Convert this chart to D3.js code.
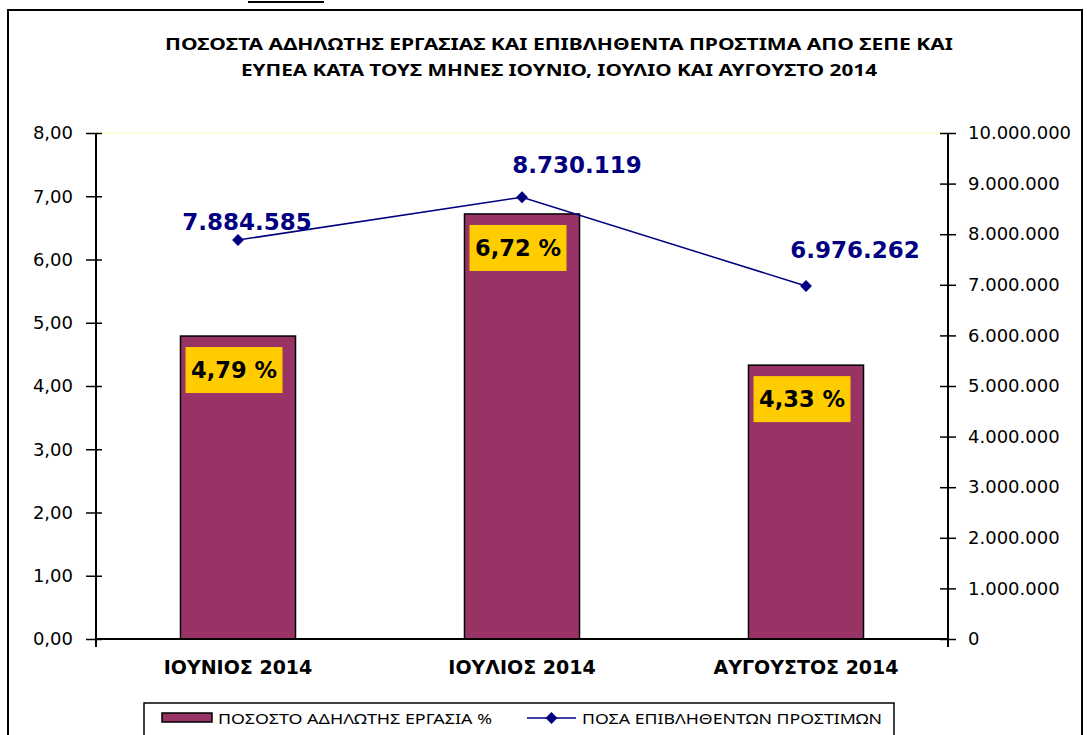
<!DOCTYPE html>
<html>
<head>
<meta charset="utf-8">
<script src="https://cdn.jsdelivr.net/npm/d3@7"></script>
<style>
  body { margin: 0; background: #fff; }
  svg { display: block; }
</style>
</head>
<body>
<svg class="chart"></svg>
<script>
// data
const months = ['ΙΟΥΝΙΟΣ 2014', 'ΙΟΥΛΙΟΣ 2014', 'ΑΥΓΟΥΣΤΟΣ 2014']
const undeclaredPct = [4.79, 6.72, 4.33]
const fines = [7884585, 8730119, 6976262]
const leftTicks = [0, 1, 2, 3, 4, 5, 6, 7, 8]
const rightTicks = [0, 1e6, 2e6, 3e6, 4e6, 5e6, 6e6, 7e6, 8e6, 9e6, 10e6]
const titleLines = [
  'ΠΟΣΟΣΤΑ ΑΔΗΛΩΤΗΣ ΕΡΓΑΣΙΑΣ ΚΑΙ ΕΠΙΒΛΗΘΕΝΤΑ ΠΡΟΣΤΙΜΑ ΑΠΟ ΣΕΠΕ ΚΑΙ',
  'ΕΥΠΕΑ ΚΑΤΑ ΤΟΥΣ ΜΗΝΕΣ ΙΟΥΝΙΟ, ΙΟΥΛΙΟ ΚΑΙ ΑΥΓΟΥΣΤΟ 2014'
]
const legendBar = 'ΠΟΣΟΣΤΟ ΑΔΗΛΩΤΗΣ ΕΡΓΑΣΙΑ %'
const legendLine = 'ΠΟΣΑ ΕΠΙΒΛΗΘΕΝΤΩΝ ΠΡΟΣΤΙΜΩΝ'

// label placement (hand-moved in the original, like excel does)
const fineLabelShift = [[9, -18], [55, -32], [49, -36]]

const W = 1087
const H = 735
const plot = { left: 96, right: 948, top: 133, bottom: 639 }
const barColor = '#993366'
const lineColor = '#000080'
const verdana = 'DejaVu Sans, Verdana, sans-serif'
const calibri = 'Noto Sans, Open Sans, sans-serif'

const locale = d3.formatLocale({ decimal: ',', thousands: '.', grouping: [3], currency: ['', '€'] })
const fmtPct = locale.format(',.2f')
const fmtNum = locale.format(',.0f')

const svg = d3.select('.chart').attr('width', W).attr('height', H)

// outer chart frame
svg.append('rect')
  .attr('x', 8).attr('y', 10)
  .attr('width', 1074).attr('height', 740)
  .attr('fill', '#fff')
  .attr('stroke', '#000').attr('stroke-width', 2)

// left-over underline above the chart
svg.append('line')
  .attr('x1', 248).attr('x2', 324).attr('y1', 2).attr('y2', 2)
  .attr('stroke', '#000').attr('stroke-width', 2)

// title
svg.selectAll('.title')
  .data(titleLines)
  .enter()
  .append('text')
  .attr('x', 559)
  .attr('y', (d, i) => 50 + i * 26)
  .attr('text-anchor', 'middle')
  .attr('font-family', calibri)
  .attr('font-weight', 'bold')
  .attr('font-size', 16.5)
  .attr('textLength', (d, i) => (i === 0 ? 788 : 636))
  .attr('lengthAdjust', 'spacingAndGlyphs')
  .text(d => d)

// scales
const xSc = d3.scaleBand()
  .domain(months)
  .range([plot.left, plot.right])
  .paddingInner(0.595)
  .paddingOuter(0.2975)

const xMid = d => xSc(d) + xSc.bandwidth() / 2

const yL = d3.scaleLinear().domain([0, 8]).range([plot.bottom, plot.top])
const yR = d3.scaleLinear().domain([0, 10e6]).range([plot.bottom, plot.top])

// plot area top border (pale yellow)
svg.append('line')
  .attr('x1', plot.left).attr('x2', plot.right)
  .attr('y1', plot.top).attr('y2', plot.top)
  .attr('stroke', '#ffffcc').attr('stroke-width', 1.5)

// bars
svg.selectAll('.bar')
  .data(months)
  .enter()
  .append('rect')
  .attr('class', 'bar')
  .attr('x', d => xSc(d))
  .attr('y', (d, i) => yL(undeclaredPct[i]))
  .attr('width', xSc.bandwidth())
  .attr('height', (d, i) => yL(0) - yL(undeclaredPct[i]))
  .attr('fill', barColor)
  .attr('stroke', '#000')
  .attr('stroke-width', 1.5)

// bar value labels on yellow boxes
const pctLab = svg.selectAll('.pctlab')
  .data(months)
  .enter()
  .append('g')
  .attr('transform', (d, i) => `translate(${xMid(d) - 4},${yL(undeclaredPct[i]) + 11})`)

pctLab.append('rect')
  .attr('x', -48.5).attr('y', 0)
  .attr('width', 97).attr('height', 46)
  .attr('fill', '#ffcc00')

pctLab.append('text')
  .attr('x', 0).attr('y', 31)
  .attr('text-anchor', 'middle')
  .attr('font-family', verdana)
  .attr('font-weight', 'bold')
  .attr('font-size', 22.5)
  .attr('fill', '#000')
  .text((d, i) => `${fmtPct(undeclaredPct[i])} %`)

// axes
const axisL = svg.append('g')
  .attr('transform', `translate(${plot.left},0)`)
  .call(d3.axisLeft(yL).tickValues(leftTicks).tickFormat(fmtPct).tickSize(10).tickPadding(13))

const axisR = svg.append('g')
  .attr('transform', `translate(${plot.right},0)`)
  .call(d3.axisRight(yR).tickValues(rightTicks).tickFormat(fmtNum).tickSize(8).tickPadding(12))

axisL.selectAll('.tick line').attr('x1', 6)
axisR.selectAll('.tick line').attr('x1', -8)

for (const ax of [axisL, axisR]) {
  ax.select('.domain').attr('stroke', '#000').attr('stroke-width', 2)
    .attr('d', `M0,${plot.top}V${plot.bottom + 8}`)
  ax.selectAll('.tick line').attr('stroke', '#000').attr('stroke-width', 1.5)
  ax.selectAll('.tick text')
    .attr('font-family', verdana)
    .attr('font-size', 18)
    .attr('fill', '#000')
}

// category axis
const axisB = svg.append('g')
  .attr('transform', `translate(0,${plot.bottom})`)
  .call(d3.axisBottom(xSc).tickSize(0).tickPadding(22))

axisB.select('.domain')
  .attr('stroke', '#000').attr('stroke-width', 2)
  .attr('d', `M${plot.left},0H${plot.right}`)

axisB.selectAll('.tick text')
  .attr('font-family', verdana)
  .attr('font-weight', 'bold')
  .attr('font-size', 19)
  .attr('fill', '#000')

// fines line
const line = d3.line()
  .x((d, i) => xMid(months[i]))
  .y(d => yR(d))

svg.append('path')
  .datum(fines)
  .attr('d', line)
  .attr('fill', 'none')
  .attr('stroke', lineColor)
  .attr('stroke-width', 1.5)

const diamond = d3.symbol().type(d3.symbolDiamond2).size(90)

svg.selectAll('.marker')
  .data(fines)
  .enter()
  .append('path')
  .attr('d', diamond)
  .attr('transform', (d, i) => `translate(${xMid(months[i])},${yR(d)})`)
  .attr('fill', lineColor)

svg.selectAll('.finelab')
  .data(fines)
  .enter()
  .append('text')
  .attr('x', (d, i) => xMid(months[i]) + fineLabelShift[i][0])
  .attr('y', (d, i) => yR(d) + fineLabelShift[i][1] + 8)
  .attr('text-anchor', 'middle')
  .attr('font-family', verdana)
  .attr('font-weight', 'bold')
  .attr('font-size', 23)
  .attr('fill', lineColor)
  .text(d => fmtNum(d))

// legend
const leg = svg.append('g')

leg.append('rect')
  .attr('x', 144).attr('y', 703)
  .attr('width', 750).attr('height', 40)
  .attr('fill', '#fff')
  .attr('stroke', '#000').attr('stroke-width', 1.5)

leg.append('rect')
  .attr('x', 162).attr('y', 713)
  .attr('width', 50).attr('height', 9)
  .attr('fill', barColor)
  .attr('stroke', '#000').attr('stroke-width', 1.5)

leg.append('text')
  .attr('x', 218).attr('y', 724)
  .attr('font-family', calibri)
  .attr('font-size', 13.5)
  .attr('textLength', 274)
  .attr('lengthAdjust', 'spacingAndGlyphs')
  .text(legendBar)

leg.append('line')
  .attr('x1', 527).attr('x2', 576).attr('y1', 718).attr('y2', 718)
  .attr('stroke', lineColor).attr('stroke-width', 1.5)

leg.append('path')
  .attr('d', diamond)
  .attr('transform', 'translate(551.5,718)')
  .attr('fill', lineColor)

leg.append('text')
  .attr('x', 582).attr('y', 724)
  .attr('font-family', calibri)
  .attr('font-size', 13.5)
  .attr('textLength', 300)
  .attr('lengthAdjust', 'spacingAndGlyphs')
  .text(legendLine)
</script>
</body>
</html>
